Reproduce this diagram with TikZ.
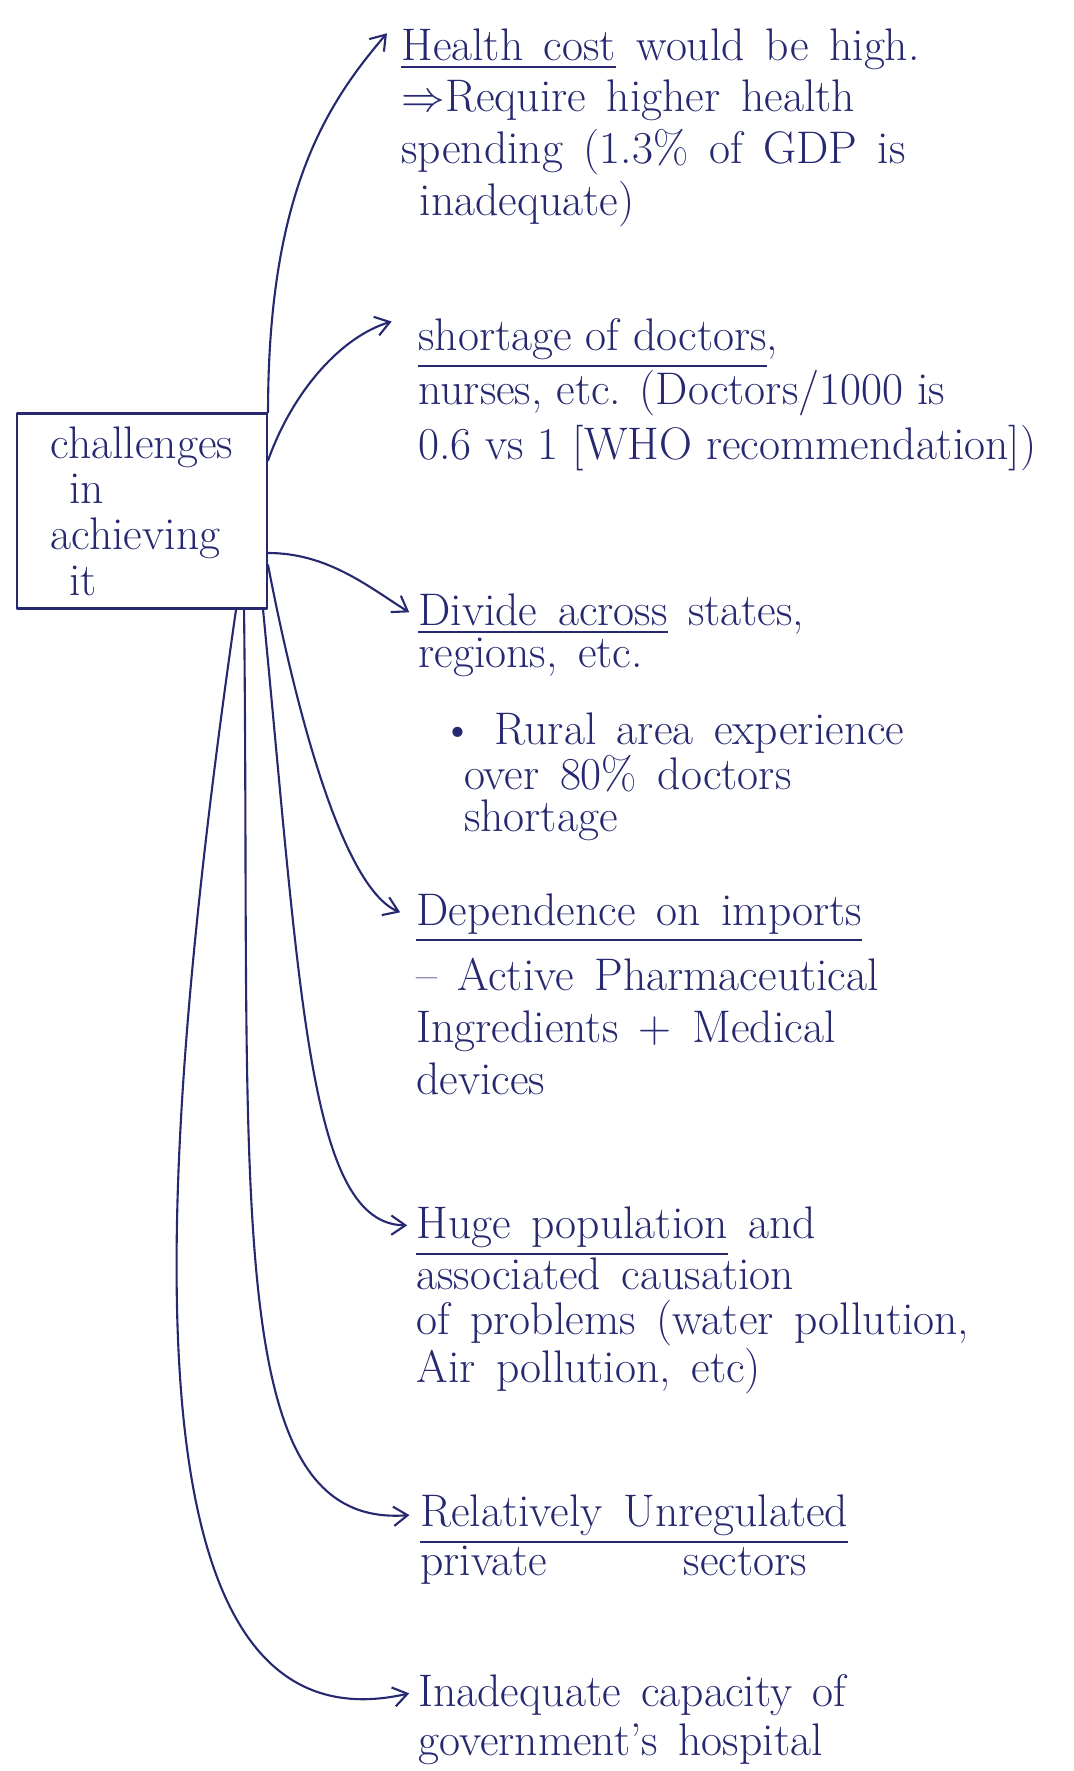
\documentclass[tikz,border=0pt]{standalone}
\usepackage{amsmath, amssymb}
\usepackage{tikz}
\usetikzlibrary{arrows.meta, calc}
\definecolor{ink}{RGB}{38,40,112}
\newcommand{\widegaps}{\spaceskip=0.45em plus 0.1em\relax}

\begin{document}
\begin{tikzpicture}[x=0.02cm, y=-0.02cm,
        >={Straight Barb[length=8pt,width=11pt]},
        inkline/.style={draw=ink, line width=1.2pt, line cap=round, line join=round},
        link/.style={inkline, ->},
        note/.style={anchor=north west, align=left, inner sep=0pt, text=ink,
            font=\fontsize{26}{29.5}\selectfont\widegaps}]
    \useasboundingbox (0,0) rectangle (1074,1771);
    % the box on the left
    \node[inkline, minimum width=5cm, minimum height=3.9cm, align=left, text=ink,
        font=\fontsize{26}{26}\selectfont] (box) at (142,511)
        {challenges\\\hspace{0.4em}in\\achieving\\\hspace{0.4em}it};
    % the notes on the right
    \node[note] (cost) at (401,28) {\underline{Health cost} would be high.\\
        $\Rightarrow$Require higher health\\
        spending (1.3\% of GDP is\\
        \hspace{0.4em}inadequate)};
    \node[note, font=\fontsize{26}{31}\selectfont] (staff) at (418,318)
        {\underline{shortage of doctors},\\
        nurses, etc. (Doctors/1000 is\\
        0.6 vs 1 [WHO recommendation])};
    \node[note, font=\fontsize{26}{24}\selectfont\widegaps] (divide) at (418,593)
        {\underline{Divide across} states,\\
        regions, etc.\\[20pt]
        \hspace{0.5em}\textbullet\ Rural area experience\\
        \hspace{1em}over 80\% doctors\\
        \hspace{1em}shortage};
    \node[note] (imports) at (416,893) {\underline{Dependence on imports}\\[8pt]
        -- Active Pharmaceutical\\
        Ingredients + Medical\\
        devices};
    \node[note, font=\fontsize{26}{25.5}\selectfont\widegaps] (people) at (416,1206)
        {\underline{Huge population} and\\
        associated causation\\
        of problems (water pollution,\\
        Air pollution, etc)};
    \node[note, font=\fontsize{26}{24}\selectfont\widegaps] (private) at (420,1494)
        {\underline{Relatively Unregulated}\\
        private\hspace{3em}sectors};
    \node[note, font=\fontsize{26}{28}\selectfont\widegaps] (hospital) at (418,1674)
        {Inadequate capacity of\\
        government's hospital};
    % arrows from the box
    \draw[link] (box.north east) .. controls +(0,-220) and +(-60,70) ..
        ([shift={(-8pt,-3pt)}]cost.north west);
    \draw[link] ([yshift=-0.96cm]box.north east) .. controls +(25,-70) and +(-50,15) ..
        ([shift={(-15pt,-2pt)}]staff.north west);
    \draw[link] ([yshift=-0.84cm]box.east) .. controls +(60,0) and +(-40,-25) ..
        ([shift={(-5pt,-11pt)}]divide.north west);
    \draw[link] ([yshift=-1.08cm]box.east) .. controls +(25,130) and +(-60,-25) ..
        ([shift={(-9pt,-11pt)}]imports.north west);
    \draw[link] ([xshift=-0.1cm]box.south east) .. controls +(38,392) and +(-98,-1) ..
        ([shift={(-5pt,-11pt)}]people.north west);
    \draw[link] ([xshift=-0.48cm]box.south east) .. controls +(7,592) and +(-189,14) ..
        ([shift={(-6pt,-12pt)}]private.north west);
    \draw[link] ([xshift=-0.64cm]box.south east) .. controls +(-85,592) and +(-290,66) ..
        ([shift={(-5pt,-11pt)}]hospital.north west);
\end{tikzpicture}
\end{document}
